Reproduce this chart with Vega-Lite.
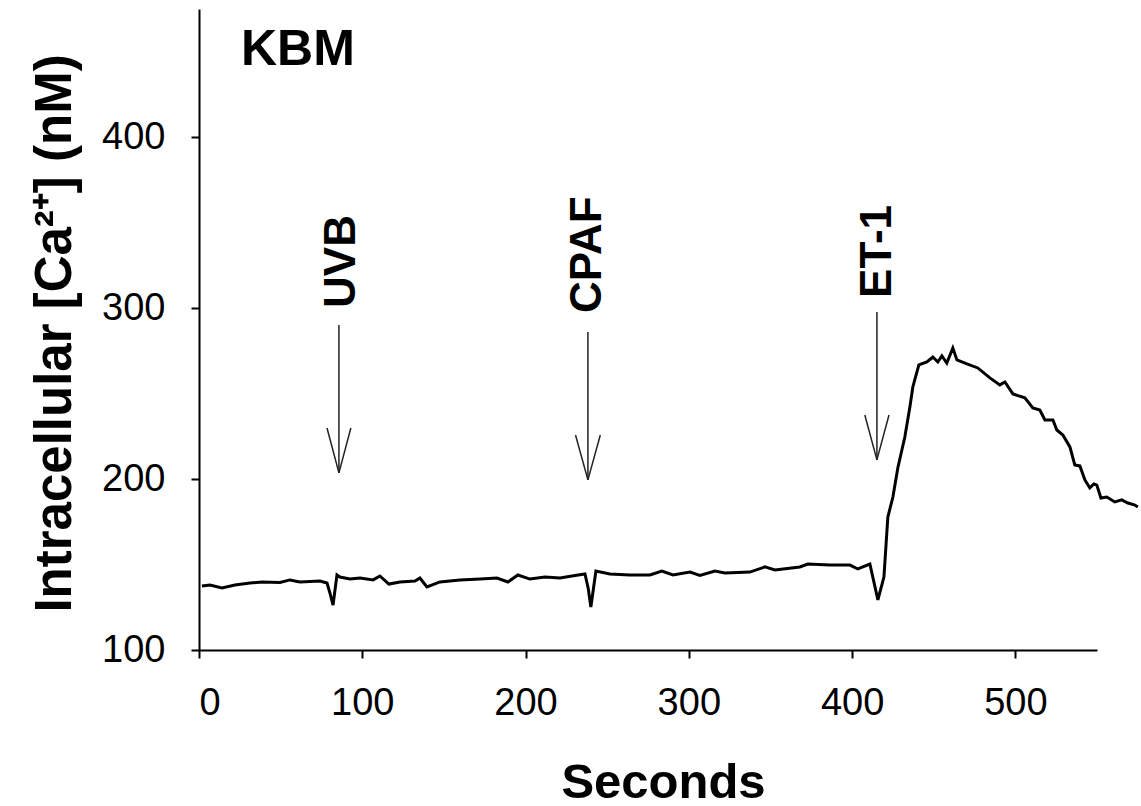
{
  "$schema": "https://vega.github.io/schema/vega-lite/v6.json",
  "autosize": "none",
  "width": 898,
  "height": 641,
  "padding": {"left": 199, "top": 9, "right": 44, "bottom": 156},
  "background": "white",
  "config": {
    "view": {"stroke": null},
    "font": "Liberation Sans",
    "axis": {"grid": false, "domainColor": "black", "tickColor": "black", "domainWidth": 2, "tickWidth": 2, "tickSize": 8, "labelColor": "black", "titleColor": "black", "labelFont": "Liberation Sans", "titleFont": "Liberation Sans"}
  },
  "datasets": {
    "trace": [
      {"t": 1.8, "ca": 137.4}, {"t": 6.7, "ca": 138.0}, {"t": 14.1, "ca": 136.3}, {"t": 22.0, "ca": 138.0},
      {"t": 31.2, "ca": 139.2}, {"t": 38.6, "ca": 139.8}, {"t": 49.6, "ca": 139.5}, {"t": 55.7, "ca": 141.0},
      {"t": 61.8, "ca": 139.8}, {"t": 74.1, "ca": 140.4}, {"t": 78.4, "ca": 139.2}, {"t": 80.3, "ca": 133.0},
      {"t": 82.1, "ca": 126.3}, {"t": 84.5, "ca": 143.9}, {"t": 86.3, "ca": 142.7}, {"t": 92.5, "ca": 141.5},
      {"t": 98.6, "ca": 142.1}, {"t": 106.6, "ca": 141.0}, {"t": 110.8, "ca": 143.3}, {"t": 116.3, "ca": 138.6},
      {"t": 123.1, "ca": 139.8}, {"t": 132.3, "ca": 140.4}, {"t": 135.3, "ca": 142.1}, {"t": 139.6, "ca": 136.9},
      {"t": 147.6, "ca": 139.8}, {"t": 159.8, "ca": 141.0}, {"t": 172.1, "ca": 141.5}, {"t": 182.5, "ca": 142.1},
      {"t": 189.2, "ca": 139.8}, {"t": 195.3, "ca": 143.9}, {"t": 202.7, "ca": 141.5}, {"t": 211.9, "ca": 142.7},
      {"t": 221.1, "ca": 142.1}, {"t": 230.3, "ca": 143.6}, {"t": 236.4, "ca": 144.5}, {"t": 238.4, "ca": 136.0},
      {"t": 240.0, "ca": 125.2}, {"t": 243.1, "ca": 146.2}, {"t": 251.7, "ca": 144.5}, {"t": 263.9, "ca": 143.9},
      {"t": 276.2, "ca": 143.9}, {"t": 283.5, "ca": 146.2}, {"t": 290.3, "ca": 143.9}, {"t": 300.7, "ca": 145.6},
      {"t": 306.8, "ca": 143.6}, {"t": 316.0, "ca": 146.2}, {"t": 322.1, "ca": 145.1}, {"t": 337.4, "ca": 145.6},
      {"t": 346.6, "ca": 148.6}, {"t": 352.7, "ca": 146.8}, {"t": 368.0, "ca": 148.6}, {"t": 372.9, "ca": 150.3},
      {"t": 386.4, "ca": 149.7}, {"t": 398.7, "ca": 149.7}, {"t": 403.5, "ca": 147.4}, {"t": 410.9, "ca": 150.3},
      {"t": 415.8, "ca": 129.3}, {"t": 419.5, "ca": 142.7}, {"t": 421.9, "ca": 177.8}, {"t": 425.0, "ca": 189.5},
      {"t": 428.0, "ca": 206.5}, {"t": 432.3, "ca": 224.6}, {"t": 435.4, "ca": 242.2}, {"t": 437.2, "ca": 253.9},
      {"t": 440.9, "ca": 266.8}, {"t": 445.8, "ca": 268.5}, {"t": 449.5, "ca": 271.4}, {"t": 452.5, "ca": 268.5},
      {"t": 455.0, "ca": 272.0}, {"t": 458.0, "ca": 267.9}, {"t": 461.7, "ca": 276.7}, {"t": 464.2, "ca": 269.7},
      {"t": 470.3, "ca": 267.4}, {"t": 477.0, "ca": 265.0}, {"t": 484.4, "ca": 259.2}, {"t": 490.5, "ca": 255.1},
      {"t": 493.6, "ca": 256.8}, {"t": 498.5, "ca": 249.8}, {"t": 505.8, "ca": 247.5}, {"t": 510.7, "ca": 241.6},
      {"t": 515.0, "ca": 240.4}, {"t": 518.1, "ca": 234.6}, {"t": 523.0, "ca": 234.6}, {"t": 525.4, "ca": 228.7},
      {"t": 529.1, "ca": 225.8}, {"t": 533.4, "ca": 218.8}, {"t": 536.4, "ca": 208.3}, {"t": 539.5, "ca": 207.7},
      {"t": 542.6, "ca": 199.5}, {"t": 545.6, "ca": 194.8}, {"t": 548.1, "ca": 197.1}, {"t": 549.9, "ca": 196.5},
      {"t": 552.4, "ca": 188.9}, {"t": 556.0, "ca": 189.5}, {"t": 560.9, "ca": 186.6}, {"t": 565.2, "ca": 187.8},
      {"t": 568.9, "ca": 186.0}, {"t": 573.2, "ca": 184.8}, {"t": 575.0, "ca": 183.7}
    ],
    "arrows": [
      {"a": "UVB", "x1": 85.7, "y1": 290.2, "x2": 85.7, "y2": 203.6},
      {"a": "UVB", "x1": 78.4, "y1": 229.9, "x2": 85.7, "y2": 203.6},
      {"a": "UVB", "x1": 93.0, "y1": 229.9, "x2": 85.7, "y2": 203.6},
      {"a": "CPAF", "x1": 238.2, "y1": 286.1, "x2": 238.2, "y2": 199.5},
      {"a": "CPAF", "x1": 230.6, "y1": 225.8, "x2": 238.2, "y2": 199.5},
      {"a": "CPAF", "x1": 245.8, "y1": 225.8, "x2": 238.2, "y2": 199.5},
      {"a": "ET-1", "x1": 415.2, "y1": 297.8, "x2": 415.2, "y2": 211.2},
      {"a": "ET-1", "x1": 407.8, "y1": 237.5, "x2": 415.2, "y2": 211.2},
      {"a": "ET-1", "x1": 422.6, "y1": 237.5, "x2": 415.2, "y2": 211.2}
    ],
    "labels": [
      {"label": "UVB", "t": 87.4, "ca": 300.1},
      {"label": "CPAF", "t": 238.2, "ca": 297.2},
      {"label": "ET-1", "t": 415.8, "ca": 306.0}
    ],
    "panel": [
      {"label": "KBM", "t": 25.7, "ca": 442.3}
    ]
  },
  "layer": [
    {
      "data": {"name": "trace"},
      "mark": {"type": "line", "color": "black", "strokeWidth": 3, "clip": false},
      "encoding": {
        "x": {"field": "t", "type": "quantitative", "scale": {"domain": [0, 550], "nice": false, "zero": false},
          "axis": {"values": [0, 100, 200, 300, 400, 500], "title": "Seconds", "labelFontSize": 38, "labelPadding": 26,
            "titleFontSize": 49, "titleFontWeight": "bold", "titleX": 464, "titleY": 147, "titleBaseline": "alphabetic", "titleAnchor": null, "titleAlign": "center"}},
        "y": {"field": "ca", "type": "quantitative", "scale": {"domain": [100, 475], "nice": false, "zero": false},
          "axis": {"values": [100, 200, 300, 400], "title": "Intracellular [Ca²⁺] (nM)", "labelFontSize": 38, "labelPadding": 26,
            "titleFontSize": 51, "titleFontWeight": "bold", "titleX": -129, "titleY": 324, "titleBaseline": "alphabetic", "titleAngle": -90, "titleAlign": "center"}}
      }
    },
    {
      "data": {"name": "arrows"},
      "mark": {"type": "rule", "color": "#222", "strokeWidth": 1.5},
      "encoding": {
        "x": {"field": "x1", "type": "quantitative"},
        "y": {"field": "y1", "type": "quantitative"},
        "x2": {"field": "x2"},
        "y2": {"field": "y2"}
      }
    },
    {
      "data": {"name": "labels"},
      "mark": {"type": "text", "angle": 270, "align": "left", "baseline": "middle", "fontSize": 44, "fontWeight": "bold", "color": "black", "font": "Liberation Sans"},
      "encoding": {
        "x": {"field": "t", "type": "quantitative"},
        "y": {"field": "ca", "type": "quantitative"},
        "text": {"field": "label"}
      }
    },
    {
      "data": {"name": "panel"},
      "mark": {"type": "text", "align": "left", "baseline": "alphabetic", "fontSize": 50, "fontWeight": "bold", "color": "black", "font": "Liberation Sans"},
      "encoding": {
        "x": {"field": "t", "type": "quantitative"},
        "y": {"field": "ca", "type": "quantitative"},
        "text": {"field": "label"}
      }
    }
  ]
}
